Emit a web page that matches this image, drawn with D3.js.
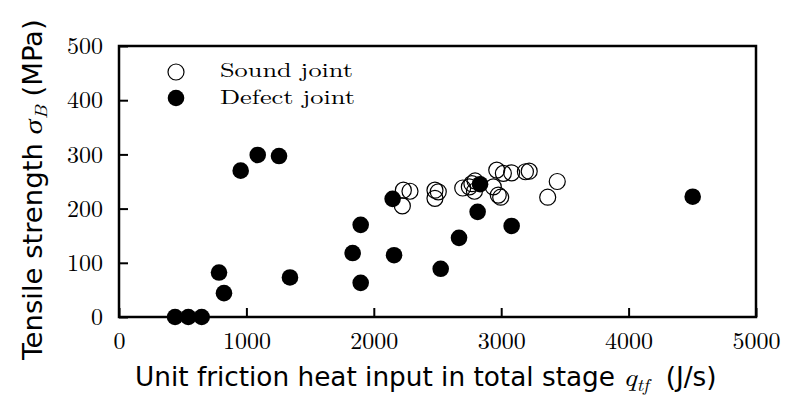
<!DOCTYPE html>
<html><head><meta charset="utf-8">
<script src="https://cdn.jsdelivr.net/npm/d3@7"></script>
<style>body{margin:0;background:#fff}svg{display:block}</style>
</head><body>
<svg id="c" width="788" height="400"></svg>
<script>
const xTicks = [0,1000,2000,3000,4000,5000];
const yTicks = [0,100,200,300,400,500];
const soundX = [2224,2232,2284,2480,2506,2480,2698,2750,2770,2795,2790,2938,2965,3017,3082,3190,3220,2977,2996,3365,3440];
const soundY = [205,234,232,234,231,219,238,240,246,251,232,240,271,265,266,268,269,225,221,221,250];
const defectX = [440,544,649,785,824,955,1089,1256,1342,1834,1897,1897,2148,2159,2525,2669,2815,2834,3082,4503];
const defectY = [0,0,0,82,44,270,299,297,73,118,170,63,218,114,89,146,194,245,168,222];
const legendLabels = ["Sound joint","Defect joint"];

const svg = d3.select("#c");
const L=119,R=756,T=46,B=317;
const x = d3.scaleLinear().domain([0,5000]).range([L,R]);
const y = d3.scaleLinear().domain([0,500]).range([B,T]);
const serif = "'Latin Modern Roman','CMU Serif','Liberation Serif','DejaVu Serif',serif";
const sans = "'DejaVu Sans Condensed','DejaVu Sans','Open Sans',sans-serif";

svg.append("rect").attr("x",L).attr("y",T).attr("width",R-L).attr("height",B-T)
  .attr("fill","none").attr("stroke","#000").attr("stroke-width",2.5);

const xa = svg.append("g").attr("transform",`translate(0,${B})`)
  .call(d3.axisBottom(x).tickValues(xTicks).tickSize(-9).tickPadding(13).tickFormat(d3.format("d")));
const ya = svg.append("g").attr("transform",`translate(${L},0)`)
  .call(d3.axisLeft(y).tickValues(yTicks).tickSize(-9).tickPadding(16).tickFormat(d3.format("d")));
[xa,ya].forEach(a=>{
  a.select(".domain").remove();
  a.selectAll("line").attr("stroke","#000").attr("stroke-width",2);
  a.selectAll("text").attr("font-family",serif).attr("font-size",24).attr("fill","#000");
});
xa.selectAll("text").attr("dy","0.8em");

const pts = svg.append("g");
pts.selectAll("circle.s").data(soundX.map((v,i)=>[v,soundY[i]])).join("circle")
  .attr("class","s").attr("cx",d=>x(d[0])).attr("cy",d=>y(d[1])).attr("r",8)
  .attr("fill","none").attr("stroke","#000").attr("stroke-width",1.2);
pts.selectAll("circle.d").data(defectX.map((v,i)=>[v,defectY[i]])).join("circle")
  .attr("class","d").attr("cx",d=>x(d[0])).attr("cy",d=>y(d[1])).attr("r",8.3)
  .attr("fill","#000");

const lg = svg.append("g");
lg.append("circle").attr("cx",176).attr("cy",72).attr("r",8).attr("fill","none").attr("stroke","#000").attr("stroke-width",1.2);
lg.append("circle").attr("cx",176).attr("cy",98).attr("r",8.3).attr("fill","#000");
const lgW=[133,135];
lg.selectAll("text").data(legendLabels).join("text")
  .attr("x",220).attr("y",(d,i)=>77+i*27).text(d=>d)
  .attr("textLength",(d,i)=>lgW[i]).attr("lengthAdjust","spacingAndGlyphs")
  .attr("font-family",serif).attr("font-size",20).attr("fill","#000");

function fit(sel, w, tr){
  const bw = sel.node().getBBox().width;
  sel.attr("transform", tr + ` scale(${w/bw},1)`);
}
const xt = svg.append("text").attr("x",0).attr("y",0)
  .attr("font-family",sans).attr("font-size",26).attr("fill","#000");
xt.append("tspan").text("Unit friction heat input in total stage ");
xt.append("tspan").attr("font-family",serif).attr("font-style","italic").text("q");
xt.append("tspan").attr("font-family",serif).attr("font-style","italic").attr("font-size",17).attr("dy",5).text("tf");
xt.append("tspan").attr("dy",-5).text("\u00A0\u00A0(J/s)");
fit(xt, 582, "translate(135,386)");

const yt = svg.append("text").attr("x",0).attr("y",0)
  .attr("font-family",sans).attr("font-size",26).attr("fill","#000");
yt.append("tspan").text("Tensile strength ");
yt.append("tspan").attr("font-family",serif).attr("font-style","italic").text("σ");
yt.append("tspan").attr("font-family",serif).attr("font-style","italic").attr("font-size",17).attr("dy",5).text("B");
yt.append("tspan").attr("dy",-5).text("\u00A0(MPa)");
fit(yt, 342, "translate(42,360) rotate(-90)");
</script>
</body></html>
